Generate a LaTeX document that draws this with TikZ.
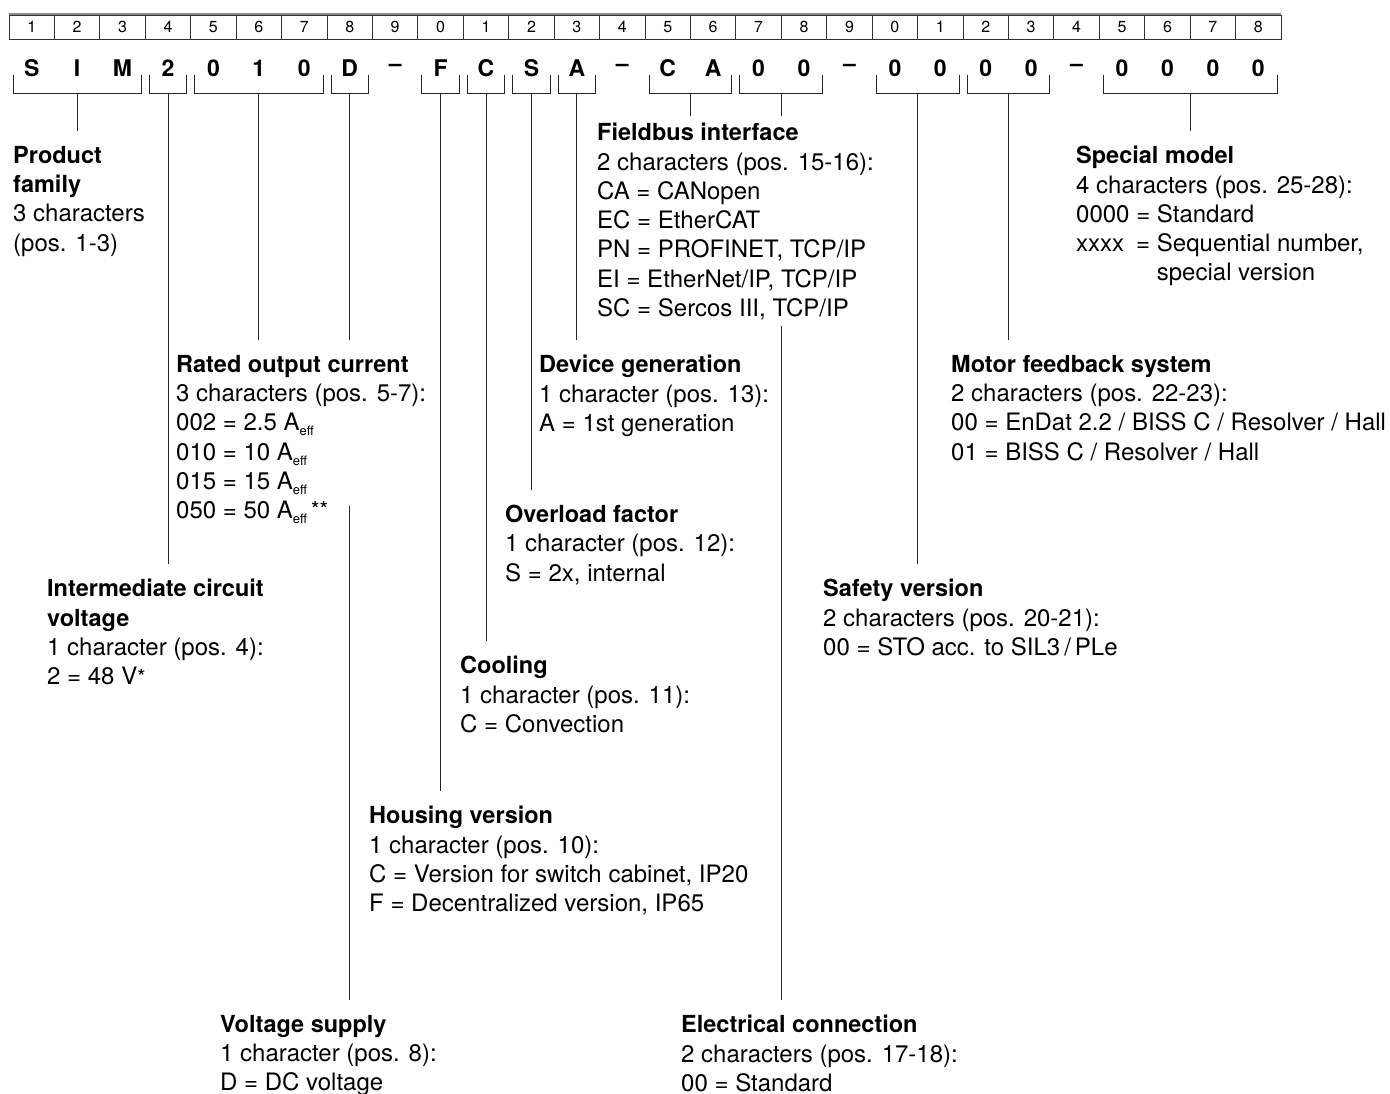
\documentclass[tikz,border=0pt]{standalone}
\usepackage{fontspec}
\setmainfont{TeX Gyre Heros}
\newcommand\Aeff{A\raisebox{-5pt}{\fontsize{13}{13}\selectfont eff}}
\newcommand\stars{\raisebox{1pt}{\fontsize{22}{22}\selectfont **}}
\newcommand\hd[1]{{\fontsize{23.5}{29.3}\selectfont\bfseries #1}}
\begin{document}
\begin{tikzpicture}[x=1pt,y=-1pt,
  txt/.style={anchor=north west, inner sep=0pt, align=left, font=\fontsize{24}{29.3}\selectfont},
  cell/.style={draw=black!80, line width=0.9pt, minimum width=45.43pt, minimum height=24pt, inner sep=0pt, font=\fontsize{16}{16}\selectfont},
  codech/.style={inner sep=0pt, font=\fontsize{23}{23}\selectfont\bfseries},
  line/.style={line width=1pt, draw=black!85},
  stem/.style={line, shorten >=15pt},
  ]
\useasboundingbox (0,0) rectangle (1390,1094);
% position row
\draw[black!45, line width=1.2pt] (9,14) -- (1281.0,14);
\foreach \i in {1,...,28}{
  \pgfmathtruncatemacro\d{mod(\i,10)}
  \node[cell] (c\i) at ({9+(\i-0.5)*45.43},27) {\d};
}
% code letters
\foreach \ch [count=\i] in {S,I,M,2,0,1,0,D,\textendash,F,C,S,A,\textendash,C,A,0,0,\textendash,0,0,0,0,\textendash,0,0,0,0}{
  \node[codech] (l\i) at ({9+(\i-0.5)*45.43},68) {\ch};
}
% brackets
\foreach \n/\a/\b in {sim/1/3, iv/4/4, roc/5/7, vs/8/8, hv/10/10, co/11/11, ol/12/12, dg/13/13, fb/15/16, ec/17/18, sv/20/21, mf/22/23, sm/25/28}{
  \draw[line] ({9+(\a-1)*45.43+4},75) -- ({9+(\a-1)*45.43+4},94) -- ({9+\b*45.43-4},94) -- ({9+\b*45.43-4},75);
  \coordinate (br-\n) at ({9+(\a-1+\b)*45.43/2},94);
}
% text blocks
\node[txt] (pf) at (13,146) {\hd{Product}\\\hd{family}\\3 characters\\(pos. 1-3)};
\node[txt] (iv) at (47,579) {\hd{Intermediate circuit}\\\hd{voltage}\\1 character (pos. 4):\\2 = 48 V\raisebox{0.5pt}{\fontsize{21}{21}\selectfont *}};
\node[txt] (roc) at (176,355) {\hd{Rated output current}\\3 characters (pos. 5-7):\\002 = 2.5 \Aeff\\010 = 10 \Aeff\\015 = 15 \Aeff\\050 = 50 \Aeff\,\stars};
\node[txt] (vs) at (220,1015) {\hd{Voltage supply}\\1 character (pos. 8):\\D = DC voltage};
\node[txt] (hv) at (369,806) {\hd{Housing version}\\1 character (pos. 10):\\C = Version for switch cabinet, IP20\\F = Decentralized version, IP65};
\node[txt] (co) at (460,656) {\hd{Cooling}\\1 character (pos. 11):\\C = Convection};
\node[txt] (ol) at (505,505) {\hd{Overload factor}\\1 character (pos. 12):\\S = 2x, internal};
\node[txt] (dg) at (539,355) {\hd{Device generation}\\1 character (pos. 13):\\A = 1st generation};
\node[txt] (fb) at (597,123) {\hd{Fieldbus interface}\\2 characters (pos. 15-16):\\CA = CANopen\\EC = EtherCAT\\PN = PROFINET, TCP/IP\\EI = EtherNet/IP, TCP/IP\\SC = Sercos III, TCP/IP};
\node[txt] (ec) at (681,1015) {\hd{Electrical connection}\\2 characters (pos. 17-18):\\00 = Standard};
\node[txt] (sv) at (823,579) {\hd{Safety version}\\2 characters (pos. 20-21):\\00 = STO acc. to SIL3\,/\,PLe};
\node[txt] (mf) at (951,355) {\hd{Motor feedback system}\\2 characters (pos. 22-23):\\00 = EnDat 2.2 / BISS C / Resolver / Hall\\01 = BISS C / Resolver / Hall};
\node[txt] (sm) at (1076,146) {\hd{Special model}\\4 characters (pos. 25-28):\\0000 = Standard\\\makebox[2.5em][l]{xxxx}= Sequential number,\\\hspace*{2.5em}\phantom{= }special version};
% connectors
\draw[stem] (br-sim) -- (br-sim |- pf.north);
\draw[stem] (br-iv) -- (br-iv |- iv.north);
\draw[stem] (br-roc) -- (br-roc |- roc.north);
\draw[stem] (br-vs) -- (br-vs |- roc.north);
\path (br-vs) ++(0,412) coordinate (vs-resume);
\draw[stem] (vs-resume) -- (vs-resume |- vs.north);
\draw[stem] (br-hv) -- (br-hv |- hv.north);
\draw[stem] (br-co) -- (br-co |- co.north);
\draw[stem] (br-ol) -- (br-ol |- ol.north);
\draw[stem] (br-dg) -- (br-dg |- dg.north);
\draw[line, shorten >=7pt] (br-fb) -- (br-fb |- fb.north);
\draw[line, shorten >=7pt] (br-ec) -- (br-ec |- fb.north);
\path (br-ec |- fb.south) ++(0,6) coordinate (ec-resume);
\draw[stem] (ec-resume) -- (ec-resume |- ec.north);
\draw[stem] (br-sv) -- (br-sv |- sv.north);
\draw[stem] (br-mf) -- (br-mf |- mf.north);
\draw[stem] (br-sm) -- (br-sm |- sm.north);
\end{tikzpicture}
\end{document}
